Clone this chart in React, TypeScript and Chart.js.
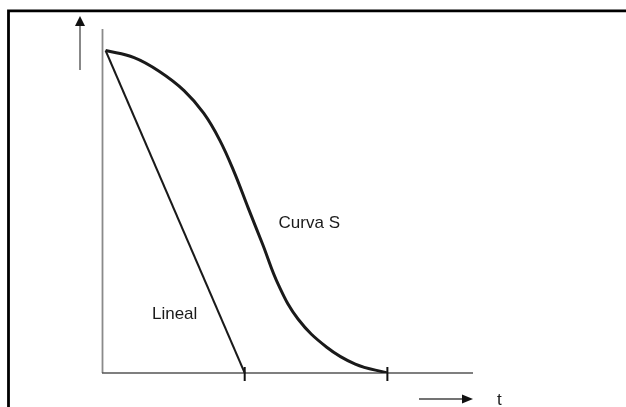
import React, { useEffect, useRef } from "react";
import { Chart, registerables } from "chart.js";

Chart.register(...registerables);

// Curve data (time units on x, quantity on y)
const sCurveX = [0.1, 0.9, 1.6, 2.3, 2.85, 3.3, 3.7, 4.1, 4.5, 4.95, 5.5, 6.3, 7.1, 8.0];
const sCurveY = [9.0, 8.8, 8.42, 7.88, 7.25, 6.5, 5.62, 4.6, 3.6, 2.45, 1.5, 0.72, 0.25, 0.0];
const linealX = [0.1, 4.0];
const linealY = [9.0, 0.0];
const tickValues = [4, 8];
const labelTexts = ["Lineal", "Curva S"];
const labelX = [1.4, 4.95];
const labelY = [1.51, 4.05];
const axisLabel = "t";

const X_MAX = 10.4;
const Y_MAX = 9.6;

export default function App() {
  const canvasRef = useRef<HTMLCanvasElement | null>(null);

  useEffect(() => {
    const canvas = canvasRef.current;
    if (!canvas) return;

    const decor = {
      id: "decor",
      beforeDatasetsDraw(chart: any) {
        const { ctx, chartArea, scales } = chart;
        const xs = scales.x;
        const ys = scales.y;
        const x0 = xs.getPixelForValue(0);
        const y0 = ys.getPixelForValue(0);
        ctx.save();
        // y axis
        ctx.strokeStyle = "#8a8a8a";
        ctx.lineWidth = 1.8;
        ctx.beginPath();
        ctx.moveTo(x0 + 0.5, chartArea.top);
        ctx.lineTo(x0 + 0.5, y0);
        ctx.stroke();
        // x axis
        ctx.strokeStyle = "#555555";
        ctx.lineWidth = 1.5;
        ctx.beginPath();
        ctx.moveTo(x0, y0);
        ctx.lineTo(chartArea.right, y0);
        ctx.stroke();
        // tick marks
        ctx.strokeStyle = "#111111";
        ctx.lineWidth = 2;
        tickValues.forEach((v) => {
          const px = xs.getPixelForValue(v);
          ctx.beginPath();
          ctx.moveTo(px, y0 - 6);
          ctx.lineTo(px, y0 + 8);
          ctx.stroke();
        });
        ctx.restore();
      },
      afterDraw(chart: any) {
        const { ctx, chartArea, scales, width, height } = chart;
        const xs = scales.x;
        const ys = scales.y;
        ctx.save();
        // outer frame
        ctx.strokeStyle = "#000000";
        ctx.lineWidth = 2.8;
        ctx.beginPath();
        ctx.rect(8.5, 10.8, width + 20, height + 20);
        ctx.stroke();

        // up arrow
        const ax = chartArea.left - 22;
        ctx.strokeStyle = "#888888";
        ctx.lineWidth = 2;
        ctx.beginPath();
        ctx.moveTo(ax, chartArea.top + 41);
        ctx.lineTo(ax, chartArea.top - 4);
        ctx.stroke();
        ctx.fillStyle = "#111111";
        ctx.beginPath();
        ctx.moveTo(ax, chartArea.top - 13);
        ctx.lineTo(ax - 5, chartArea.top - 3);
        ctx.lineTo(ax + 5, chartArea.top - 3);
        ctx.closePath();
        ctx.fill();

        // right arrow
        const ay = chartArea.bottom + 26;
        ctx.strokeStyle = "#444444";
        ctx.lineWidth = 1.5;
        ctx.beginPath();
        ctx.moveTo(chartArea.right - 54, ay);
        ctx.lineTo(chartArea.right - 9, ay);
        ctx.stroke();
        ctx.fillStyle = "#111111";
        ctx.beginPath();
        ctx.moveTo(chartArea.right, ay);
        ctx.lineTo(chartArea.right - 11, ay - 4.5);
        ctx.lineTo(chartArea.right - 11, ay + 4.5);
        ctx.closePath();
        ctx.fill();

        // labels
        ctx.fillStyle = "#1a1a1a";
        ctx.font = "17px 'Liberation Sans', Arial, sans-serif";
        ctx.textAlign = "left";
        ctx.textBaseline = "alphabetic";
        labelTexts.forEach((t, i) => {
          ctx.fillText(t, xs.getPixelForValue(labelX[i]), ys.getPixelForValue(labelY[i]));
        });
        ctx.fillText(axisLabel, chartArea.right + 24, chartArea.bottom + 32);
        ctx.restore();
      },
    };

    const chart = new Chart(canvas, {
      type: "line",
      data: {
        datasets: [
          {
            label: "Curva S",
            data: sCurveX.map((x, i) => ({ x, y: sCurveY[i] })),
            borderColor: "#1a1a1a",
            borderWidth: 3,
            tension: 0.4,
            pointRadius: 0,
            fill: false,
          },
          {
            label: "Lineal",
            data: linealX.map((x, i) => ({ x, y: linealY[i] })),
            borderColor: "#1a1a1a",
            borderWidth: 2,
            tension: 0,
            pointRadius: 0,
            fill: false,
          },
        ],
      },
      options: {
        responsive: false,
        animation: false,
        layout: { padding: { left: 102, right: 153, top: 29, bottom: 34 } },
        scales: {
          x: { type: "linear", min: 0, max: X_MAX, display: false },
          y: { type: "linear", min: 0, max: Y_MAX, display: false },
        },
        plugins: {
          legend: { display: false },
          tooltip: { enabled: false },
        },
      },
      plugins: [decor],
    } as any);

    return () => chart.destroy();
  }, []);

  return (
    <div style={{ position: "fixed", left: 0, top: 0, width: 626, height: 407, background: "#fff" }}>
      <canvas ref={canvasRef} width={626} height={407} style={{ display: "block" }} />
    </div>
  );
}
